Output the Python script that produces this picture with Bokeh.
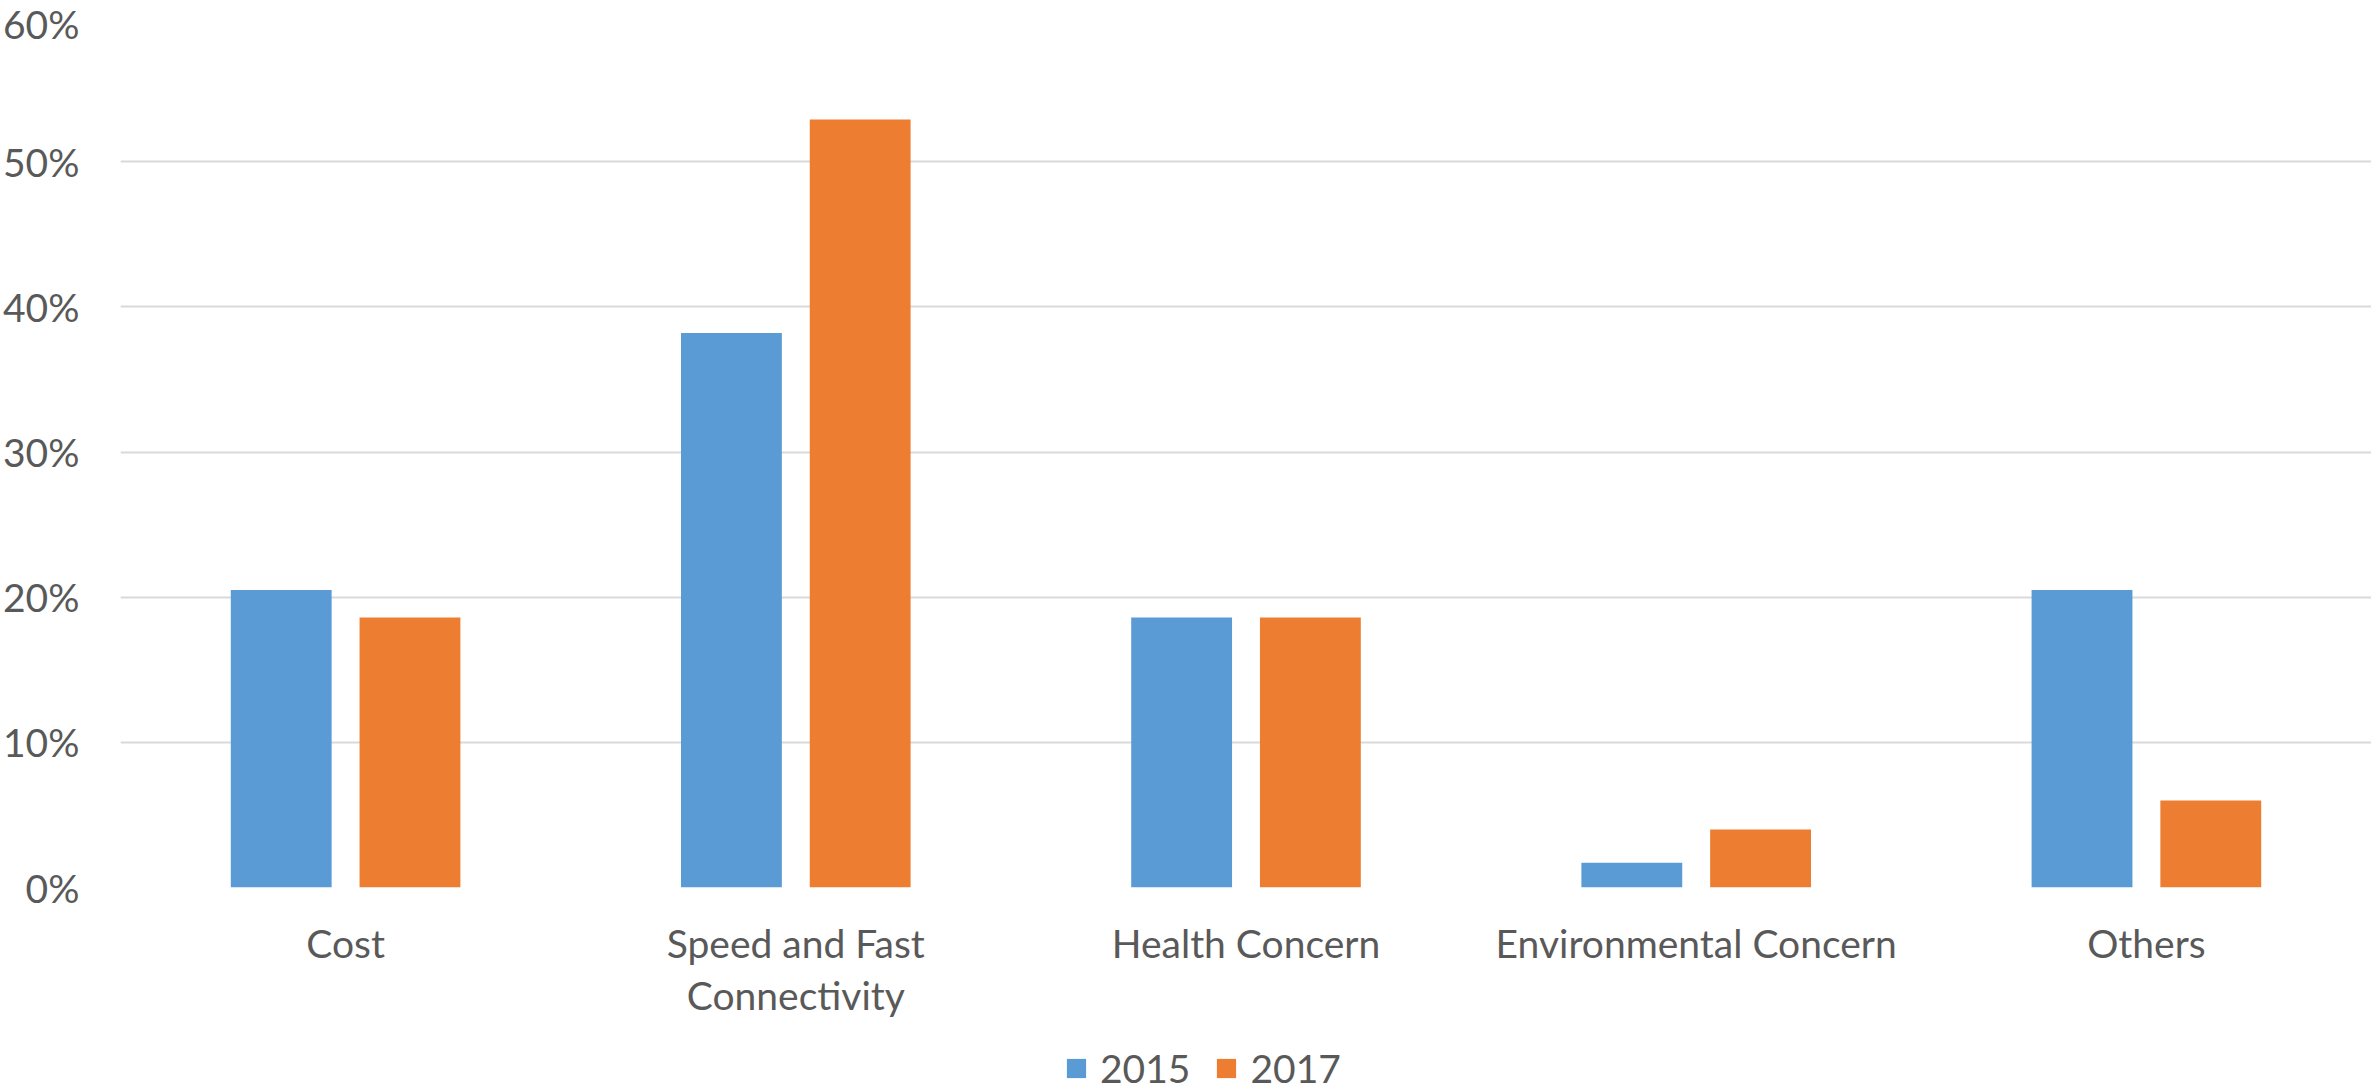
import json
from bokeh.plotting import figure
from bokeh.layouts import column
from bokeh.models import (ColumnDataSource, FactorRange, FixedTicker, NumeralTickFormatter,
                          Legend, LegendItem, Range1d, CategoricalAxis, CustomJSTickFormatter)
from bokeh.transform import dodge
from bokeh.embed import file_html
from bokeh.resources import INLINE

categories = ["Cost", "Speed and Fast Connectivity", "Health Concern", "Environmental Concern", "Others"]
label_line1 = {"Cost": "Cost", "Speed and Fast Connectivity": "Speed and Fast",
               "Health Concern": "Health Concern", "Environmental Concern": "Environmental Concern",
               "Others": "Others"}
label_line2 = {"Cost": "", "Speed and Fast Connectivity": "Connectivity", "Health Concern": "",
               "Environmental Concern": "", "Others": ""}
series_names = ["2015", "2017"]
values_2015 = [0.205, 0.382, 0.186, 0.017, 0.205]
values_2017 = [0.186, 0.529, 0.186, 0.040, 0.060]
y_ticks = [0, 0.1, 0.2, 0.3, 0.4, 0.5, 0.6]

BLUE = "#5B9BD5"
ORANGE = "#ED7D31"
TEXT = "#595959"
FONT = "Lato"
FS = "39px"

src = ColumnDataSource(dict(cat=categories, v2015=values_2015, v2017=values_2017))

p = figure(width=2371, height=1021, x_range=FactorRange(factors=categories, range_padding=0),
           y_range=Range1d(0, 0.6), output_backend="svg", toolbar_location=None,
           min_border_left=115, min_border_right=0, min_border_top=16, min_border_bottom=134)
p.outline_line_color = None
p.background_fill_color = "white"
p.border_fill_color = "white"

r1 = p.vbar(x=dodge("cat", -0.143, range=p.x_range), top="v2015", width=0.224, source=src,
            fill_color=BLUE, line_color=None)
r2 = p.vbar(x=dodge("cat", 0.143, range=p.x_range), top="v2017", width=0.224, source=src,
            fill_color=ORANGE, line_color=None)

p.xgrid.grid_line_color = None
p.ygrid.grid_line_color = "#d9d9d9"
p.ygrid.grid_line_width = 2

p.yaxis.ticker = FixedTicker(ticks=y_ticks)
p.yaxis.formatter = NumeralTickFormatter(format="0%")
p.yaxis.axis_line_color = None
p.yaxis.major_tick_line_color = None
p.yaxis.minor_tick_line_color = None
p.yaxis.major_tick_in = 0
p.yaxis.major_tick_out = 0
p.yaxis.major_label_standoff = 41
p.yaxis.major_label_text_font = FONT
p.yaxis.major_label_text_font_size = FS
p.yaxis.major_label_text_color = TEXT


def style_x(ax, standoff, mapping):
    ax.axis_line_color = None
    ax.major_tick_line_color = None
    ax.major_tick_in = 0
    ax.major_tick_out = 0
    ax.major_label_standoff = standoff
    ax.major_label_text_font = FONT
    ax.major_label_text_font_size = FS
    ax.major_label_text_color = TEXT
    ax.formatter = CustomJSTickFormatter(
        code="const m = %s; return (tick in m) ? m[tick] : tick;" % json.dumps(mapping))


style_x(p.xaxis[0], 32, label_line1)

ax2 = CategoricalAxis()
style_x(ax2, 3, label_line2)
p.add_layout(ax2, "below")

# legend strip below the chart (its bars lie entirely below the strip's visible range)
leg = figure(width=2371, height=70, x_range=p.x_range, y_range=Range1d(1, 2),
             output_backend="svg", toolbar_location=None,
             min_border_left=0, min_border_right=0, min_border_top=0, min_border_bottom=0)
leg.axis.visible = False
leg.grid.visible = False
leg.outline_line_color = None
g1 = leg.vbar(x=dodge("cat", -0.143, range=leg.x_range), top="v2015", width=0.224, source=src,
              fill_color=BLUE, line_color=None)
g2 = leg.vbar(x=dodge("cat", 0.143, range=leg.x_range), top="v2017", width=0.224, source=src,
              fill_color=ORANGE, line_color=None)

legend = Legend(items=[LegendItem(label=series_names[0], renderers=[g1]),
                       LegendItem(label=series_names[1], renderers=[g2])],
                location=(944, 0), orientation="horizontal")
legend.glyph_width = 24
legend.glyph_height = 24
legend.label_standoff = 12
legend.spacing = 24
legend.padding = 0
legend.margin = 0
legend.border_line_color = None
legend.background_fill_alpha = 0
legend.label_text_font = FONT
legend.label_text_font_size = FS
legend.label_text_color = TEXT
leg.add_layout(legend, "center")

layout = column(p, leg, spacing=0)
open("out.html", "w").write(file_html(layout, INLINE))
